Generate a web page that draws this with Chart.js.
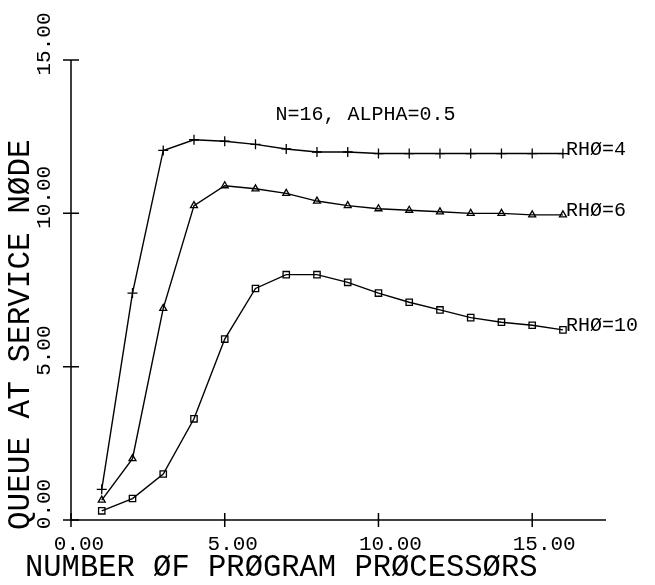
<!DOCTYPE html>
<html>
<head>
<meta charset="utf-8">
<script src="https://cdn.jsdelivr.net/npm/chart.js@4"></script>
<style>
  html, body { margin: 0; padding: 0; background: #fff; }
  #wrap { width: 655px; height: 585px; }
</style>
</head>
<body>
<div id="wrap"><canvas id="queue"></canvas></div>
<script>
// data (x = number of program processors)
const processors = [1, 2, 3, 4, 5, 6, 7, 8, 9, 10, 11, 12, 13, 14, 15, 16];
const rho4 = [1.0, 7.4, 12.05, 12.4, 12.35, 12.25, 12.1, 12.0, 12.0, 11.95, 11.95, 11.95, 11.95, 11.95, 11.95, 11.95];
const rho6 = [0.65, 2.0, 6.9, 10.25, 10.9, 10.8, 10.65, 10.4, 10.25, 10.15, 10.1, 10.05, 10.0, 10.0, 9.95, 9.95];
const rho10 = [0.3, 0.7, 1.5, 3.3, 5.9, 7.55, 8.0, 8.0, 7.75, 7.4, 7.1, 6.85, 6.6, 6.45, 6.35, 6.2];
const seriesNames = ['RHØ=4', 'RHØ=6', 'RHØ=10'];
const xTicks = [0, 5, 10, 15];
const yTicks = [0, 5, 10, 15];
const xTickLabels = ['0.00', '5.00', '10.00', '15.00'];
const yTickLabels = ['0.00', '5.00', '10.00', '15.00'];
const chartTitle = 'N=16, ALPHA=0.5';
const xTitle = 'NUMBER ØF PRØGRAM PRØCESSØRS';
const yTitle = 'QUEUE AT SERVICE NØDE';

const toPoints = (ys) => processors.map((x, i) => ({ x: x, y: ys[i] }));
const FONT = '"Liberation Mono", "DejaVu Sans Mono", monospace';

// plotter-style axes, labels and annotations
const plotterAxes = {
  id: 'plotterAxes',
  afterDraw(chart) {
    const ctx = chart.ctx;
    const xs = chart.scales.x, ys = chart.scales.y;
    const a = chart.chartArea;
    ctx.save();
    ctx.strokeStyle = '#000';
    ctx.fillStyle = '#000';
    ctx.lineWidth = 1.5;

    // axis lines
    ctx.beginPath();
    ctx.moveTo(a.left, a.top);
    ctx.lineTo(a.left, a.bottom);
    ctx.lineTo(a.right, a.bottom);
    ctx.stroke();

    // ticks crossing the axes
    ctx.beginPath();
    xTicks.forEach(v => {
      const px = xs.getPixelForValue(v);
      ctx.moveTo(px, a.bottom - 7);
      ctx.lineTo(px, a.bottom + 7);
    });
    yTicks.forEach(v => {
      const py = ys.getPixelForValue(v);
      ctx.moveTo(a.left - 8, py);
      ctx.lineTo(a.left + 8, py);
    });
    ctx.stroke();

    // tick labels
    ctx.font = '21px ' + FONT;
    ctx.textAlign = 'center';
    ctx.textBaseline = 'middle';
    xTicks.forEach((v, i) => {
      ctx.fillText(xTickLabels[i], xs.getPixelForValue(v) + 8 + (v >= 10 ? 4 : 0), a.bottom + 24);
    });
    yTicks.forEach((v, i) => {
      ctx.save();
      ctx.translate(a.left - 27, ys.getPixelForValue(v) - 16);
      ctx.rotate(-Math.PI / 2);
      ctx.fillText(yTickLabels[i], 0, 0);
      ctx.restore();
    });

    // axis titles
    ctx.font = '30.5px ' + FONT;
    ctx.textAlign = 'left';
    ctx.fillText(xTitle, 25, 568);
    ctx.font = '31px ' + FONT;
    ctx.save();
    ctx.translate(21, 530);
    ctx.rotate(-Math.PI / 2);
    ctx.fillText(yTitle, 0, 0);
    ctx.restore();

    // chart note
    ctx.font = '20px ' + FONT;
    ctx.fillText(chartTitle, xs.getPixelForValue(6.65), ys.getPixelForValue(13.2));

    // curve labels next to the last point
    const last = processors.length - 1;
    [rho4, rho6, rho10].forEach((s, i) => {
      ctx.fillText(seriesNames[i], xs.getPixelForValue(processors[last]) + 3, ys.getPixelForValue(s[last]) - 4);
    });
    ctx.restore();
  }
};

const common = {
  showLine: true,
  borderColor: '#000',
  backgroundColor: 'rgba(0,0,0,0)',
  pointBorderColor: '#000',
  pointBackgroundColor: 'rgba(0,0,0,0)',
  borderWidth: 1.4,
  pointBorderWidth: 1.3,
  tension: 0
};

new Chart(document.getElementById('queue').getContext('2d'), {
  type: 'scatter',
  data: {
    datasets: [
      Object.assign({ label: seriesNames[0], data: toPoints(rho4), pointStyle: 'cross', pointRadius: 5 }, common),
      Object.assign({ label: seriesNames[1], data: toPoints(rho6), pointStyle: 'triangle', pointRadius: 4 }, common),
      Object.assign({ label: seriesNames[2], data: toPoints(rho10), pointStyle: 'rect', pointRadius: 4.5 }, common)
    ]
  },
  options: {
    responsive: true,
    maintainAspectRatio: false,
    animation: false,
    layout: { padding: { left: 71, right: 49, top: 60, bottom: 65 } },
    plugins: { legend: { display: false }, tooltip: { enabled: false } },
    scales: {
      x: { type: 'linear', min: 0, max: 17.4, display: false },
      y: { type: 'linear', min: 0, max: 15, display: false }
    }
  },
  plugins: [plotterAxes]
});
</script>
</body>
</html>
